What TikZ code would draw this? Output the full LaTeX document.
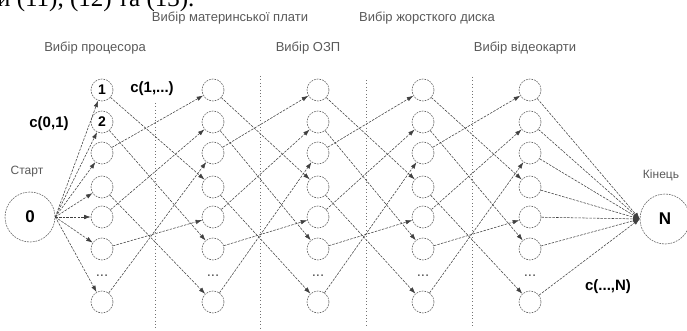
\documentclass[tikz,border=0pt]{standalone}
\usepackage{fontspec}
\setmainfont{Liberation Sans}
\newfontfamily\bodyserif{Liberation Serif}
\usetikzlibrary{arrows.meta}
\begin{document}
\begin{tikzpicture}[x=1pt,y=-1pt,
  stage/.style={circle, draw=black!60, line width=0.6pt, dash pattern=on 1.8pt off 1pt,
    minimum size=22pt, inner sep=0pt, font=\bfseries\fontsize{14}{14}\selectfont},
  terminal/.style={stage, minimum size=50pt, font=\bfseries\fontsize{17}{17}\selectfont},
  link/.style={draw=black!75, line width=0.55pt, dash pattern=on 2.5pt off 1.2pt,
    -{Latex[length=6.5pt,width=4.5pt]}},
  divider/.style={draw=black!55, line width=0.7pt, dash pattern=on 0.8pt off 2.6pt},
  heading/.style={text=black!65, font=\fontsize{13}{15}\selectfont, inner sep=0pt},
  endlabel/.style={text=black!65, font=\fontsize{12}{14}\selectfont, inner sep=0pt},
  cost/.style={font=\bfseries\fontsize{15}{15}\selectfont, inner sep=0pt},
  gap/.style={font=\fontsize{15}{15}\selectfont, text=black!70, inner sep=0pt}
]
\useasboundingbox (0,0) rectangle (687,331);
\clip (0,0) rectangle (687,331);

% tail of the preceding sentence, cut by the top edge
\node[anchor=base west, inner sep=0pt, font=\bodyserif\fontsize{25}{25}\selectfont]
  (tail) at (-3,7) {и (11), (12) та (13).};

% stage headings
\node[heading] (h1) at (95,48)  {Вибір процесора};
\node[heading] (h2) at (230,18) {Вибір материнської плати};
\node[heading] (h3) at (308,48) {Вибір ОЗП};
\node[heading] (h4) at (427,18) {Вибір жорсткого диска};
\node[heading] (h5) at (525,48) {Вибір відеокарти};

% dividers between stages
\draw[divider] (155,103) -- (155,328);
\draw[divider] (260,76) -- (260,328);
\draw[divider] (366,80) -- (366,326);
\draw[divider] (472,77) -- (472,326);

% component choices of every stage
\foreach \c/\x in {1/102,2/213,3/318,4/423,5/530} {
  \foreach \r/\y in {1/90,2/122,3/153,4/187,5/217,6/249,7/302} {
    \def\lbl{}
    \ifnum\c=1 \ifnum\r<3 \edef\lbl{\r}\fi\fi
    \node[stage] (n-\c-\r) at (\x,\y) {\lbl};
  }
  \node[gap] (d-\c) at (\x,276) {...};
}

% start and finish
\node[terminal] (s) at (30,217) {0};
\node[terminal] (e) at (665,219) {N};
\node[endlabel] (ls) at (27,172) {Старт};
\node[endlabel] (le) at (661,175) {Кінець};

% transitions between neighbouring stages
\foreach \c in {1,2,3,4} {
  \pgfmathtruncatemacro\nx{\c+1}
  \foreach \r/\t in {1/4,2/6,3/1,4/7,5/2,6/5,7/3}
    \draw[link] (n-\c-\r) -- (n-\nx-\t);
}

% transitions from the start and to the finish
\foreach \r in {1,...,7} {
  \draw[link] (s.east) -- (n-1-\r);
  \draw[link] (n-5-\r) -- (e.west);
}

% costs
\node[cost] (c01) at (49,124)  {c(0,1)};
\node[cost] (c1x) at (152,89)  {c(1,...)};
\node[cost] (cxn) at (608,287) {c(...,N)};
\end{tikzpicture}
\end{document}
